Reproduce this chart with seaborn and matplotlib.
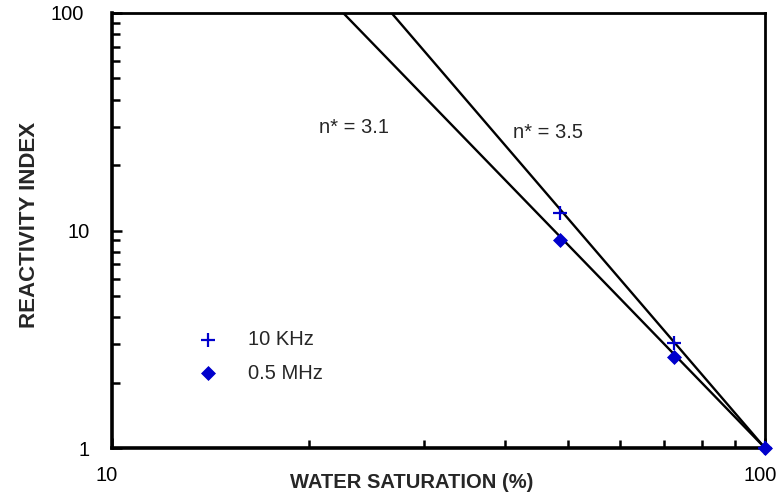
import matplotlib
matplotlib.use("Agg")
import matplotlib.pyplot as plt
import matplotlib.ticker as mticker
import matplotlib.transforms as mtransforms
import seaborn as sns
import pandas as pd

# measured points (water saturation %, resistivity index)
sw_10khz = [48.5, 72.5, 100]
ri_10khz = [12.0, 3.04, 1.0]
sw_05mhz = [48.5, 72.5, 100]
ri_05mhz = [9.0, 2.62, 1.0]

# fitted lines, endpoints
line_31_x = [22.6, 100]
line_31_y = [100, 1]
line_35_x = [26.8, 100]
line_35_y = [100, 1]

sns.set_style("white")
plt.rcParams['font.family'] = ['Liberation Sans', 'DejaVu Sans']

fig = plt.figure(figsize=(7.76, 5.0), dpi=100)
ax = fig.add_axes([112 / 776, 52 / 500, 653 / 776, 435 / 500])

sns.lineplot(x=line_31_x, y=line_31_y, ax=ax, color="black", lw=1.7)
sns.lineplot(x=line_35_x, y=line_35_y, ax=ax, color="black", lw=1.7)

df_a = pd.DataFrame({"sw": sw_10khz, "ri": ri_10khz})
df_b = pd.DataFrame({"sw": sw_05mhz, "ri": ri_05mhz})
sns.scatterplot(data=df_b, x="sw", y="ri", ax=ax, marker="D", s=50,
                color="#0000cc", edgecolor="#0000cc", label="0.5 MHz", zorder=3, clip_on=False)
sns.scatterplot(data=df_a, x="sw", y="ri", ax=ax, marker="+", s=110,
                color="#0000cc", linewidth=1.6, label="10 KHz", zorder=4, clip_on=False)

ax.set_xscale("log")
ax.set_yscale("log")
ax.set_xlim(10, 100)
ax.set_ylim(1, 100)

ax.xaxis.set_major_locator(mticker.FixedLocator([10, 100]))
ax.yaxis.set_major_locator(mticker.FixedLocator([1, 10, 100]))
ax.xaxis.set_major_formatter(mticker.FormatStrFormatter("%g"))
ax.yaxis.set_major_formatter(mticker.FormatStrFormatter("%g"))
ax.xaxis.set_minor_locator(mticker.LogLocator(base=10, subs=range(2, 10)))
ax.yaxis.set_minor_locator(mticker.LogLocator(base=10, subs=range(2, 10)))
ax.xaxis.set_minor_formatter(mticker.NullFormatter())
ax.yaxis.set_minor_formatter(mticker.NullFormatter())

ax.tick_params(axis="both", which="both", direction="in", width=1.8, color="black",
               labelsize=14.5, labelcolor="black")
ax.tick_params(axis="both", which="major", length=7)
ax.tick_params(axis="both", which="minor", length=6)
ax.tick_params(axis="x", which="major", pad=13)
ax.tick_params(axis="y", which="major", pad=16)
ax.tick_params(axis="both", which="both", bottom=True, left=True, top=False, right=False)

# x tick labels sit a little left of their ticks in the original
shift = mtransforms.ScaledTranslation(-5 / 100, 0, fig.dpi_scale_trans)
for lbl in ax.get_xticklabels():
    lbl.set_transform(lbl.get_transform() + shift)
# top y label "100" also sits further left
ylbls = ax.get_yticklabels()
ylbls[-1].set_transform(ylbls[-1].get_transform()
                        + mtransforms.ScaledTranslation(-6 / 100, 0, fig.dpi_scale_trans))

for side, lw in [("left", 2.6), ("bottom", 2.6), ("top", 2.0), ("right", 2.0)]:
    ax.spines[side].set_visible(True)
    ax.spines[side].set_color("black")
    ax.spines[side].set_linewidth(lw)

ax.set_xlabel("WATER SATURATION (%)", fontsize=14.5, fontweight="bold")
ax.set_ylabel("REACTIVITY INDEX", fontsize=16, fontweight="bold")
ax.xaxis.set_label_coords(0.459, -0.058)
ax.yaxis.set_label_coords(-0.110, 0.513)

ax.text(23.5, 29.6, "n* = 3.1", fontsize=14.5, ha="center", va="center")
ax.text(46.5, 28.1, "n* = 3.5", fontsize=14.5, ha="center", va="center")

handles, labels = ax.get_legend_handles_labels()
order = [labels.index("10 KHz"), labels.index("0.5 MHz")]
ax.legend([handles[i] for i in order], [labels[i] for i in order],
          loc="upper left", bbox_to_anchor=(0.088, 0.312), frameon=False,
          fontsize=14.5, handletextpad=1.0, labelspacing=0.7)

fig.savefig("out.png", dpi=100)
